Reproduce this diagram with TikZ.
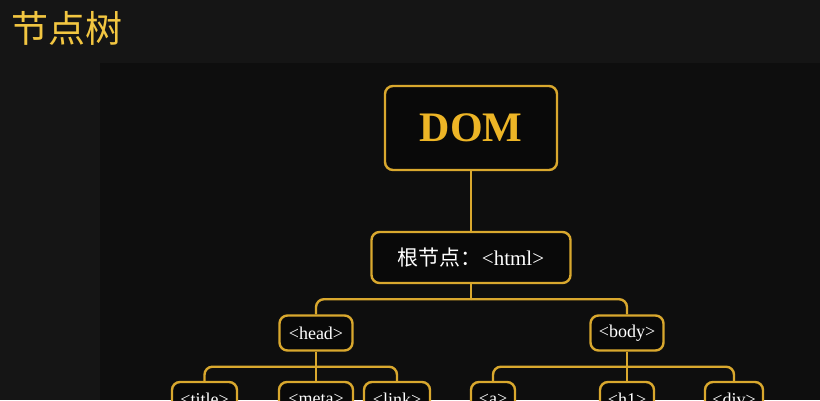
\documentclass[tikz,border=0pt]{standalone}
\usepackage{fontspec}
\setmainfont{Liberation Serif}
\newfontfamily\cjk{Noto Sans CJK SC}
\usetikzlibrary{positioning}
\definecolor{pagebg}{HTML}{151515}
\definecolor{panelbg}{HTML}{0E0E0E}
\definecolor{boxbg}{HTML}{090909}
\definecolor{gold}{HTML}{D9A82E}
\definecolor{goldtext}{HTML}{EDB526}
\definecolor{titlegold}{HTML}{F2C641}
\tikzset{
  treebox/.style={draw=gold,line width=2.4pt,rounded corners=8pt,fill=boxbg,text=white,inner sep=0pt,align=center},
  tagbox/.style={treebox,minimum height=35pt,font=\fontsize{18}{20}\selectfont},
  branch/.style={draw=gold,line width=2.4pt,rounded corners=8pt}
}
\begin{document}
\begin{tikzpicture}[x=1pt,y=-1pt]
\useasboundingbox (0,0) rectangle (820,400);
\fill[pagebg] (0,0) rectangle (820,400);
\fill[panelbg] (100,63) rectangle (820,400);
%
\node (heading) [anchor=west,inner sep=0pt,text=titlegold,font=\cjk\fontsize{37}{40}\selectfont] at (11,28) {节点树};
%
\node (dom) [treebox,minimum width=172pt,minimum height=84pt,text=goldtext,font=\bfseries\fontsize{42}{44}\selectfont] at (471,128) {DOM};
\node (root) [treebox,minimum width=199pt,minimum height=51pt,font=\fontsize{21}{24}\selectfont] at (471,257.5) {{\cjk 根节点：}<html>};
%
\node (head) [tagbox,minimum width=73pt] at (316,333) {<head>};
\node (body) [tagbox,minimum width=73pt] at (627,333) {<body>};
%
\node (title) [tagbox,minimum width=65pt] at (204.5,399.5) {<title>};
\node (meta) [tagbox,minimum width=74pt] at (316,399.5) {<meta>};
\node (link) [tagbox,minimum width=66pt] at (397,399.5) {<link>};
\node (a) [tagbox,minimum width=44pt] at (493,399.5) {<a>};
\node (h1) [tagbox,minimum width=54pt] at (627,399.5) {<h1>};
\node (div) [tagbox,minimum width=58pt] at (734,399.5) {<div>};
%
\draw[branch] (dom) -- (root);
\coordinate (rootfork) at ([yshift=-15pt]root.south);
\draw[branch] (root.south) -- (rootfork);
\draw[branch] (rootfork) -| (head.north);
\draw[branch] (rootfork) -| (body.north);
%
\coordinate (headfork) at ([yshift=-15pt]head.south);
\draw[branch] (head) -- (meta);
\foreach \kid in {title,link}
  \draw[branch] (headfork) -| (\kid.north);
\coordinate (bodyfork) at ([yshift=-15pt]body.south);
\draw[branch] (body) -- (h1);
\foreach \kid in {a,div}
  \draw[branch] (bodyfork) -| (\kid.north);
\end{tikzpicture}
\end{document}
